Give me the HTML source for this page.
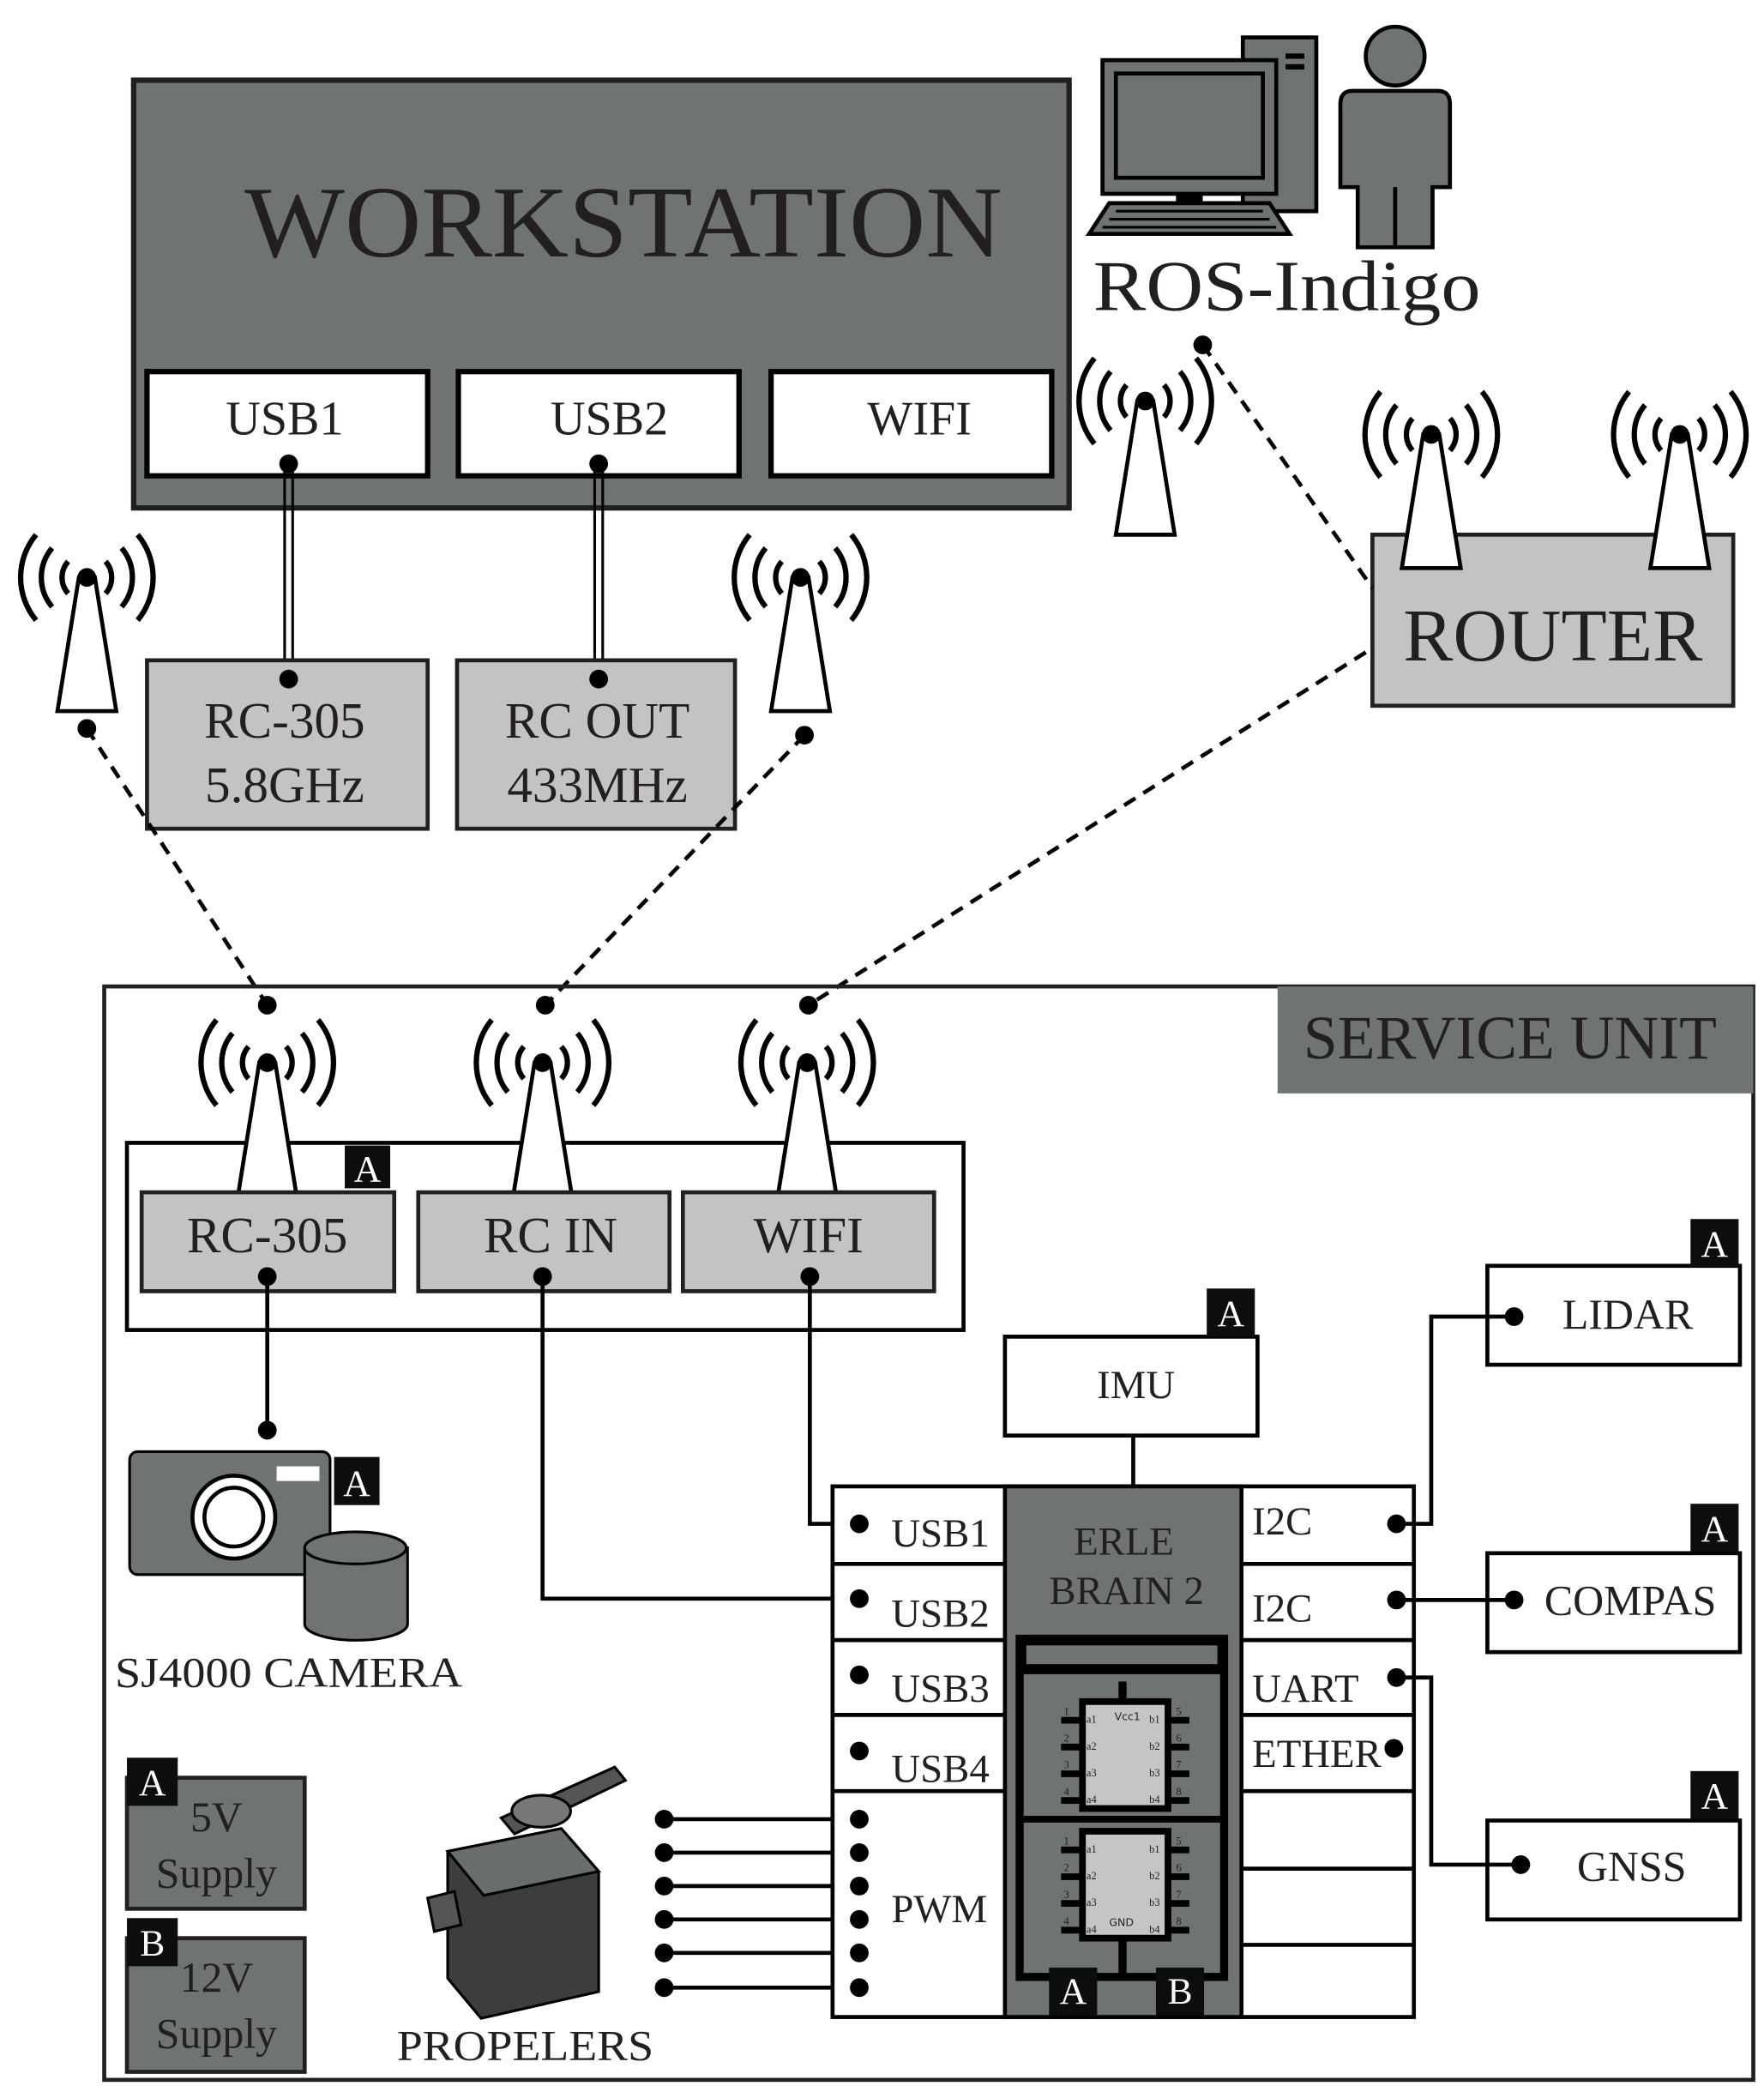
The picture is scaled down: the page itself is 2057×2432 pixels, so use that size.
<!DOCTYPE html>
<html><head><meta charset="utf-8"><style>
html,body{margin:0;padding:0;background:#fff}
svg{display:block}
text{font-family:"Liberation Serif",serif;fill:#231f20}
.b{fill:#fff;font-size:28px}
</style></head><body>
<svg width="2057" height="2432" viewBox="0 0 1320 1560.6" preserveAspectRatio="none" xmlns="http://www.w3.org/2000/svg">
<defs>
<g id="ant">
  <path d="M-6,0 L-22,100 L22,100 L6,0 Z" fill="#fff" stroke="#000" stroke-width="3"/>
  <path d="M-14,-12 A18,18 0 0 0 -14,12 M14,-12 A18,18 0 0 1 14,12" fill="none" stroke="#000" stroke-width="4"/>
  <path d="M-26,-22 A34,34 0 0 0 -26,22 M26,-22 A34,34 0 0 1 26,22" fill="none" stroke="#000" stroke-width="4"/>
  <path d="M-38,-32 A50,50 0 0 0 -38,32 M38,-32 A50,50 0 0 1 38,32" fill="none" stroke="#000" stroke-width="4"/>
  <circle r="7" fill="#000"/>
</g>
<g id="chip">
  <rect x="0" y="0" width="64" height="80" fill="#c5c5c5" stroke="#000" stroke-width="5"/>
  <g stroke="#000" stroke-width="5">
   <line x1="-16" y1="14" x2="0" y2="14"/><line x1="-16" y1="34" x2="0" y2="34"/><line x1="-16" y1="54" x2="0" y2="54"/><line x1="-16" y1="74" x2="0" y2="74"/>
   <line x1="64" y1="14" x2="80" y2="14"/><line x1="64" y1="34" x2="80" y2="34"/><line x1="64" y1="54" x2="80" y2="54"/><line x1="64" y1="74" x2="80" y2="74"/>
  </g>
  <g font-size="8" style="font-family:'DejaVu Sans',sans-serif">
   <text x="3" y="16">a1</text><text x="3" y="36">a2</text><text x="3" y="56">a3</text><text x="3" y="76">a4</text>
   <text x="50" y="16">b1</text><text x="50" y="36">b2</text><text x="50" y="56">b3</text><text x="50" y="76">b4</text>
   <text x="-14" y="10">1</text><text x="-14" y="30">2</text><text x="-14" y="50">3</text><text x="-14" y="70">4</text>
   <text x="70" y="10">5</text><text x="70" y="30">6</text><text x="70" y="50">7</text><text x="70" y="70">8</text>
  </g>
</g>
</defs>

<!-- WORKSTATION -->
<rect x="100" y="60" width="700" height="320" fill="#6f7371" stroke="#231f20" stroke-width="4"/>
<text x="183" y="192" font-size="76" textLength="567" lengthAdjust="spacingAndGlyphs">WORKSTATION</text>
<rect x="110" y="278" width="210" height="78" fill="#fff" stroke="#000" stroke-width="4"/>
<rect x="343" y="278" width="210" height="78" fill="#fff" stroke="#000" stroke-width="4"/>
<rect x="577" y="278" width="210" height="78" fill="#fff" stroke="#000" stroke-width="4"/>
<text x="213" y="325" font-size="36" text-anchor="middle">USB1</text>
<text x="456" y="325" font-size="36" text-anchor="middle">USB2</text>
<text x="688" y="325" font-size="36" text-anchor="middle">WIFI</text>
<g stroke="#000" stroke-width="2"><line x1="213" y1="347" x2="213" y2="508"/><line x1="219" y1="347" x2="219" y2="508"/><line x1="445" y1="347" x2="445" y2="508"/><line x1="451" y1="347" x2="451" y2="508"/></g>
<circle cx="216" cy="347" r="7"/><circle cx="448" cy="347" r="7"/>
<rect x="110" y="494" width="210" height="126" fill="#c3c3c3" stroke="#231f20" stroke-width="3"/>
<rect x="342" y="494" width="208" height="126" fill="#c3c3c3" stroke="#231f20" stroke-width="3"/>
<circle cx="216" cy="508" r="7"/><circle cx="448" cy="508" r="7"/>
<text x="213" y="552" font-size="38" text-anchor="middle">RC-305</text>
<text x="213" y="600" font-size="38" text-anchor="middle">5.8GHz</text>
<text x="447" y="552" font-size="38" text-anchor="middle">RC OUT</text>
<text x="447" y="600" font-size="38" text-anchor="middle">433MHz</text>

<use href="#ant" x="65" y="432"/>
<use href="#ant" x="599" y="432"/>
<use href="#ant" x="857" y="300"/>

<!-- ROUTER -->
<rect x="1027" y="400" width="270" height="128" fill="#c3c3c3" stroke="#231f20" stroke-width="3"/>
<use href="#ant" x="1071" y="325"/>
<use href="#ant" x="1257" y="325"/>
<text x="1162" y="494" font-size="56" text-anchor="middle">ROUTER</text>

<!-- computer & person -->
<rect x="930" y="28" width="55" height="130" fill="#6f7371" stroke="#000" stroke-width="3"/>
<rect x="962" y="40" width="14" height="4" fill="#000"/><rect x="962" y="48" width="14" height="4" fill="#000"/>
<rect x="825" y="45" width="130" height="100" fill="#6f7371" stroke="#000" stroke-width="3"/>
<rect x="835" y="55" width="110" height="78" fill="#6f7371" stroke="#000" stroke-width="3"/>
<rect x="880" y="145" width="20" height="8" fill="#000"/>
<path d="M830,152 L950,152 L965,175 L815,175 Z" fill="#6f7371" stroke="#000" stroke-width="3"/>
<g stroke="#000" stroke-width="2"><line x1="835" y1="158" x2="945" y2="158"/><line x1="830" y1="164" x2="950" y2="164"/><line x1="825" y1="170" x2="955" y2="170"/></g>
<circle cx="1044" cy="42" r="22" fill="#6f7371" stroke="#000" stroke-width="3"/>
<path d="M1012,68 L1076,68 Q1085,68 1085,78 L1085,140 L1072,140 L1072,185 L1016,185 L1016,140 L1003,140 L1003,78 Q1003,68 1012,68 Z" fill="#6f7371" stroke="#000" stroke-width="3"/>
<line x1="1044" y1="140" x2="1044" y2="185" stroke="#000" stroke-width="3"/>
<text x="818" y="232" font-size="54" textLength="290" lengthAdjust="spacingAndGlyphs">ROS-Indigo</text>

<!-- dashed -->
<g stroke="#000" stroke-width="3" stroke-dasharray="10,7" fill="none">
<line x1="65" y1="545" x2="200" y2="752"/>
<line x1="602" y1="550" x2="408" y2="752"/>
<line x1="1022" y1="488" x2="605" y2="752"/>
<line x1="900" y1="258" x2="1027" y2="440"/>
</g>
<g fill="#000"><circle cx="65" cy="545" r="7"/><circle cx="602" cy="550" r="7"/><circle cx="900" cy="258" r="7"/><circle cx="200" cy="752" r="7"/><circle cx="408" cy="752" r="7"/><circle cx="605" cy="752" r="7"/></g>

<!-- SERVICE UNIT -->
<rect x="78" y="738" width="1234" height="818" fill="none" stroke="#231f20" stroke-width="3"/>
<rect x="956" y="738" width="356" height="80" fill="#6f7371"/>
<text x="1130" y="792" font-size="46" text-anchor="middle">SERVICE UNIT</text>

<rect x="95" y="855" width="626" height="140" fill="#fff" stroke="#000" stroke-width="3"/>
<use href="#ant" x="200" y="795"/>
<use href="#ant" x="406" y="795"/>
<use href="#ant" x="604" y="795"/>
<rect x="106" y="892" width="189" height="74" fill="#c3c3c3" stroke="#231f20" stroke-width="3"/>
<rect x="313" y="892" width="188" height="74" fill="#c3c3c3" stroke="#231f20" stroke-width="3"/>
<rect x="511" y="892" width="188" height="74" fill="#c3c3c3" stroke="#231f20" stroke-width="3"/>
<text x="200" y="937" font-size="38" text-anchor="middle">RC-305</text>
<text x="412" y="937" font-size="38" text-anchor="middle">RC IN</text>
<text x="605" y="937" font-size="38" text-anchor="middle">WIFI</text>
<rect x="258" y="857" width="34" height="32" fill="#0b0d0f"/><text class="b" x="275" y="884" text-anchor="middle">A</text>

<g stroke="#000" stroke-width="3" fill="none">
<line x1="200" y1="955" x2="200" y2="1070"/>
<polyline points="406,955 406,1196 643,1196"/>
<polyline points="606,955 606,1140 643,1140"/>
<line x1="848" y1="1074" x2="848" y2="1112"/>
</g>
<g fill="#000"><circle cx="200" cy="955" r="7"/><circle cx="200" cy="1070" r="7"/><circle cx="406" cy="955" r="7"/><circle cx="606" cy="955" r="7"/></g>

<!-- camera -->
<rect x="97" y="1086" width="150" height="92" rx="6" fill="#6f7371" stroke="#000" stroke-width="2"/>
<circle cx="175" cy="1135" r="31" fill="#fff" stroke="#000" stroke-width="3"/>
<circle cx="175" cy="1135" r="22" fill="#fff" stroke="#000" stroke-width="3"/>
<rect x="207" y="1097" width="32" height="11" fill="#fff"/>
<path d="M228,1158 L228,1215 A38,12 0 0 0 305,1215 L305,1158 Z" fill="#6f7371" stroke="#000" stroke-width="2"/>
<ellipse cx="266" cy="1158" rx="38" ry="12" fill="#6f7371" stroke="#000" stroke-width="2"/>
<rect x="250" y="1090" width="34" height="36" fill="#0b0d0f"/><text class="b" x="267" y="1119" text-anchor="middle">A</text>
<text x="86" y="1262" font-size="32" textLength="260" lengthAdjust="spacingAndGlyphs">SJ4000 CAMERA</text>

<!-- supplies -->
<rect x="95" y="1330" width="133" height="98" fill="#6f7371" stroke="#231f20" stroke-width="3"/>
<rect x="95" y="1315" width="38" height="36" fill="#0b0d0f"/><text class="b" x="114" y="1343" text-anchor="middle">A</text>
<text x="162" y="1370" font-size="32" text-anchor="middle">5V</text>
<text x="162" y="1412" font-size="32" text-anchor="middle">Supply</text>
<rect x="95" y="1450" width="133" height="100" fill="#6f7371" stroke="#231f20" stroke-width="3"/>
<rect x="95" y="1435" width="38" height="36" fill="#0b0d0f"/><text class="b" x="114" y="1463" text-anchor="middle">B</text>
<text x="162" y="1490" font-size="32" text-anchor="middle">12V</text>
<text x="162" y="1532" font-size="32" text-anchor="middle">Supply</text>

<!-- servo -->
<g stroke="#000" stroke-width="2">
<path d="M335,1385 L420,1368 L448,1400 L448,1490 L360,1510 L335,1480 Z" fill="#3b3d3e"/>
<path d="M335,1385 L420,1368 L448,1400 L362,1418 Z" fill="#6a6d6e"/>
<path d="M320,1420 L340,1415 L345,1440 L325,1445 Z" fill="#555"/>
<path d="M375,1360 L460,1322 L468,1332 L385,1372 Z" fill="#555"/>
<ellipse cx="405" cy="1355" rx="22" ry="12" fill="#777"/>
</g>
<text x="297" y="1541" font-size="32" textLength="192" lengthAdjust="spacingAndGlyphs">PROPELERS</text>

<!-- PWM lines -->
<g stroke="#000" stroke-width="3">
<line x1="497" y1="1361" x2="643" y2="1361"/><line x1="497" y1="1386" x2="643" y2="1386"/><line x1="497" y1="1411" x2="643" y2="1411"/>
<line x1="497" y1="1436" x2="643" y2="1436"/><line x1="497" y1="1461" x2="643" y2="1461"/><line x1="497" y1="1487" x2="643" y2="1487"/>
</g>
<g fill="#000">
<circle cx="497" cy="1361" r="7"/><circle cx="497" cy="1386" r="7"/><circle cx="497" cy="1411" r="7"/><circle cx="497" cy="1436" r="7"/><circle cx="497" cy="1461" r="7"/><circle cx="497" cy="1487" r="7"/>
</g>

<!-- ERLE board -->
<rect x="623" y="1112" width="435" height="397" fill="#fff" stroke="#000" stroke-width="3"/>
<rect x="752" y="1112" width="177" height="397" fill="#6f7371" stroke="#000" stroke-width="3"/>
<g stroke="#000" stroke-width="3">
<line x1="623" y1="1170" x2="752" y2="1170"/><line x1="623" y1="1227" x2="752" y2="1227"/><line x1="623" y1="1283" x2="752" y2="1283"/><line x1="623" y1="1340" x2="752" y2="1340"/>
<line x1="929" y1="1170" x2="1058" y2="1170"/><line x1="929" y1="1227" x2="1058" y2="1227"/><line x1="929" y1="1283" x2="1058" y2="1283"/><line x1="929" y1="1340" x2="1058" y2="1340"/><line x1="929" y1="1398" x2="1058" y2="1398"/><line x1="929" y1="1455" x2="1058" y2="1455"/>
</g>
<g font-size="30">
<text x="667" y="1157">USB1</text><text x="667" y="1217">USB2</text><text x="667" y="1273">USB3</text><text x="667" y="1333">USB4</text><text x="667" y="1438">PWM</text>
<text x="937" y="1148">I2C</text><text x="937" y="1213">I2C</text><text x="937" y="1273">UART</text><text x="937" y="1322">ETHER</text>
</g>
<text x="841" y="1163" font-size="30" text-anchor="middle">ERLE</text>
<text x="843" y="1200" font-size="30" text-anchor="middle">BRAIN 2</text>
<rect x="763" y="1226" width="153" height="253" fill="none" stroke="#000" stroke-width="6"/>
<rect x="766" y="1229" width="147" height="18" fill="#6f7371" stroke="#000" stroke-width="4"/>
<line x1="763" y1="1250" x2="916" y2="1250" stroke="#000" stroke-width="5"/>
<line x1="763" y1="1361" x2="916" y2="1361" stroke="#000" stroke-width="5"/>
<line x1="840" y1="1258" x2="840" y2="1273" stroke="#000" stroke-width="6"/>
<line x1="840" y1="1448" x2="840" y2="1478" stroke="#000" stroke-width="6"/>
<use href="#chip" x="810" y="1273"/>
<use href="#chip" x="810" y="1370"/>
<text x="834" y="1287" font-size="8" style="font-family:'DejaVu Sans',sans-serif">Vcc1</text>
<text x="830" y="1441" font-size="8" style="font-family:'DejaVu Sans',sans-serif">GND</text>
<rect x="785" y="1472" width="36" height="36" fill="#0b0d0f"/><text class="b" x="803" y="1499" text-anchor="middle">A</text>
<rect x="865" y="1472" width="36" height="36" fill="#0b0d0f"/><text class="b" x="883" y="1499" text-anchor="middle">B</text>

<!-- IMU -->
<rect x="752" y="1000" width="189" height="74" fill="#fff" stroke="#000" stroke-width="3"/>
<text x="850" y="1046" font-size="30" text-anchor="middle">IMU</text>
<rect x="903" y="964" width="36" height="36" fill="#0b0d0f"/><text class="b" x="921" y="992" text-anchor="middle">A</text>
<!-- LIDAR -->
<rect x="1113" y="947" width="189" height="74" fill="#fff" stroke="#000" stroke-width="3"/>
<text x="1218" y="994" font-size="32" text-anchor="middle">LIDAR</text>
<rect x="1265" y="912" width="36" height="36" fill="#0b0d0f"/><text class="b" x="1283" y="940" text-anchor="middle">A</text>
<!-- COMPAS -->
<rect x="1113" y="1162" width="189" height="74" fill="#fff" stroke="#000" stroke-width="3"/>
<text x="1220" y="1208" font-size="32" text-anchor="middle">COMPAS</text>
<rect x="1265" y="1125" width="36" height="36" fill="#0b0d0f"/><text class="b" x="1283" y="1153" text-anchor="middle">A</text>
<!-- GNSS -->
<rect x="1113" y="1362" width="189" height="74" fill="#fff" stroke="#000" stroke-width="3"/>
<text x="1221" y="1407" font-size="32" text-anchor="middle">GNSS</text>
<rect x="1265" y="1325" width="36" height="36" fill="#0b0d0f"/><text class="b" x="1283" y="1353" text-anchor="middle">A</text>

<!-- right connectors on top -->
<g stroke="#000" stroke-width="3" fill="none">
<polyline points="1045,1140 1071,1140 1071,985 1133,985"/>
<line x1="1045" y1="1197" x2="1133" y2="1197"/>
<polyline points="1045,1255 1071,1255 1071,1395 1138,1395"/>
</g>

<!-- dots on top -->
<g fill="#000">
<circle cx="643" cy="1140" r="7"/><circle cx="643" cy="1196" r="7"/><circle cx="643" cy="1253" r="7"/><circle cx="643" cy="1310" r="7"/>
<circle cx="643" cy="1361" r="7"/><circle cx="643" cy="1386" r="7"/><circle cx="643" cy="1411" r="7"/><circle cx="643" cy="1436" r="7"/><circle cx="643" cy="1461" r="7"/><circle cx="643" cy="1487" r="7"/>
<circle cx="1045" cy="1140" r="7"/><circle cx="1045" cy="1197" r="7"/><circle cx="1045" cy="1255" r="7"/><circle cx="1043" cy="1308" r="7"/>
<circle cx="1133" cy="985" r="7"/><circle cx="1133" cy="1197" r="7"/><circle cx="1138" cy="1395" r="7"/>
</g>
</svg>
</body></html>
